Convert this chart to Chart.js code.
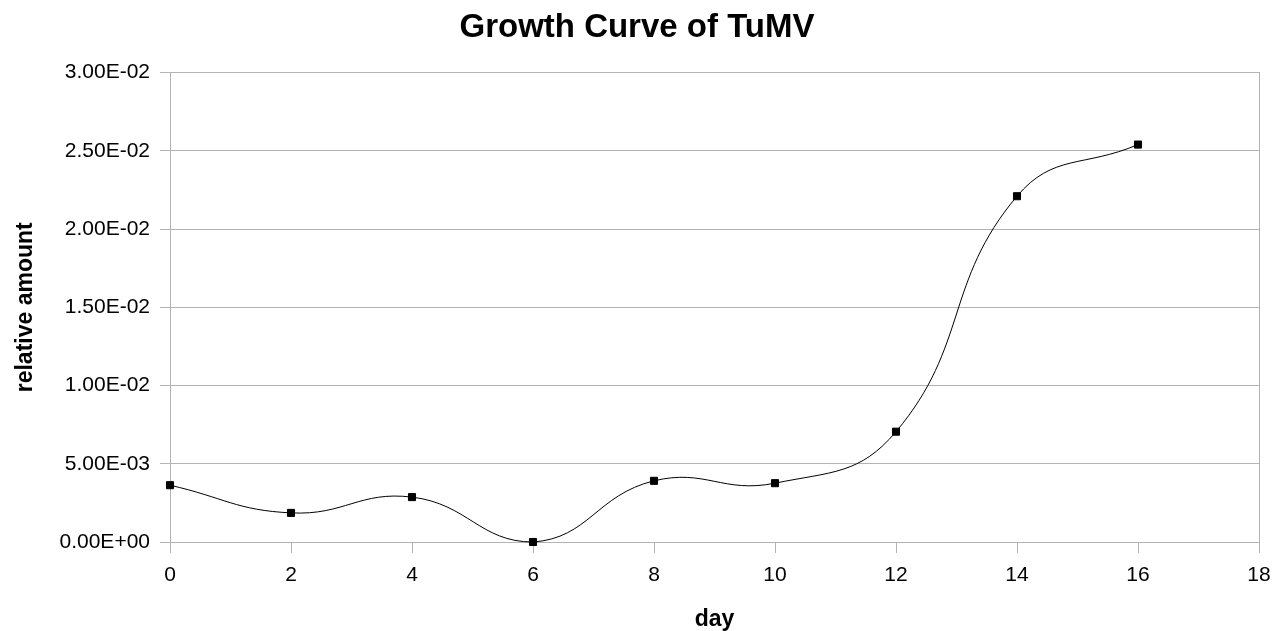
<!DOCTYPE html>
<html>
<head>
<meta charset="utf-8">
<title>Growth Curve of TuMV</title>
<script src="https://cdn.jsdelivr.net/npm/chart.js@4/dist/chart.umd.min.js"></script>
<style>
  html, body { margin: 0; padding: 0; background: #fff; }
  #wrap { width: 1274px; height: 631px; }
</style>
</head>
<body>
<div id="wrap"><canvas id="myChart"></canvas></div>
<script>
// datos
const days = [0, 2, 4, 6, 8, 10, 12, 14, 16];
const amounts = [0.00363, 0.00186, 0.00287, 0, 0.00391, 0.00376, 0.00705, 0.0221, 0.0254];
const xTicks = [0, 18, 2];      // min, max, paso
const yTicks = [0, 0.03, 0.005];

const puntos = days.map((d, i) => ({ x: d, y: amounts[i] }));

// formato tipo 3.00E-02
const sci = (v) => {
  let s = Number(v).toExponential(2).toUpperCase();
  let partes = s.split('E');
  let exp = parseInt(partes[1], 10);
  let signo = exp < 0 ? '-' : '+';
  let abs = Math.abs(exp);
  return partes[0] + 'E' + signo + (abs < 10 ? '0' + abs : abs);
};

const gris = '#b3b3b3';
Chart.defaults.font.family = "'Liberation Sans', Arial, sans-serif";
Chart.defaults.color = '#000';

let ctx = document.getElementById('myChart').getContext('2d');
let chart = new Chart(ctx, {
  type: 'line',
  data: {
    datasets: [{
      label: 'TuMV',
      data: puntos,
      borderColor: '#000',
      borderWidth: 1,
      tension: 0.45,
      pointStyle: 'rect',
      pointRadius: 5,
      pointBorderWidth: 1,
      pointBackgroundColor: '#000',
      pointBorderColor: '#000',
      clip: false,
      yAxisID: 'y'
    }]
  },
  options: {
    responsive: true,
    maintainAspectRatio: false,
    animation: false,
    layout: { padding: { left: 0, right: 0, top: 0, bottom: 0 } },
    plugins: {
      legend: { display: false },
      tooltip: { enabled: false },
      title: {
        display: true,
        text: 'Growth Curve of TuMV',
        color: '#000',
        font: { size: 33, weight: 'bold' },
        padding: { top: 8, bottom: 25 }
      }
    },
    scales: {
      x: {
        type: 'linear',
        min: xTicks[0],
        max: xTicks[1],
        ticks: { stepSize: xTicks[2], padding: 10, font: { size: 21 }, color: '#000' },
        grid: { drawOnChartArea: false, drawTicks: true, tickLength: 11, color: gris },
        border: { display: true, color: gris },
        title: { display: true, text: 'day', font: { size: 23, weight: 'bold' }, padding: { top: 0, bottom: -2 } },
        afterFit: (scale) => {
          scale.height = 89;
          scale.paddingRight = 0; // el borde derecho lo pone y2
        }
      },
      y: {
        min: yTicks[0],
        max: yTicks[1],
        ticks: { stepSize: yTicks[2], padding: 10, font: { size: 21 }, color: '#000', callback: (v) => sci(v) },
        grid: { color: gris, tickLength: 10 },
        border: { display: true, color: gris },
        title: { display: true, text: 'relative amount', font: { size: 23, weight: 'bold' }, padding: { top: 12, bottom: 0 } },
        afterFit: (scale) => { scale.width = 170; }
      },
      // eje derecho solo para el borde del area
      y2: {
        position: 'right',
        min: yTicks[0],
        max: yTicks[1],
        ticks: { display: false },
        grid: { display: false, drawTicks: false },
        border: { display: true, color: gris },
        afterFit: (scale) => { scale.width = 15; }
      }
    }
  }
});
</script>
</body>
</html>
